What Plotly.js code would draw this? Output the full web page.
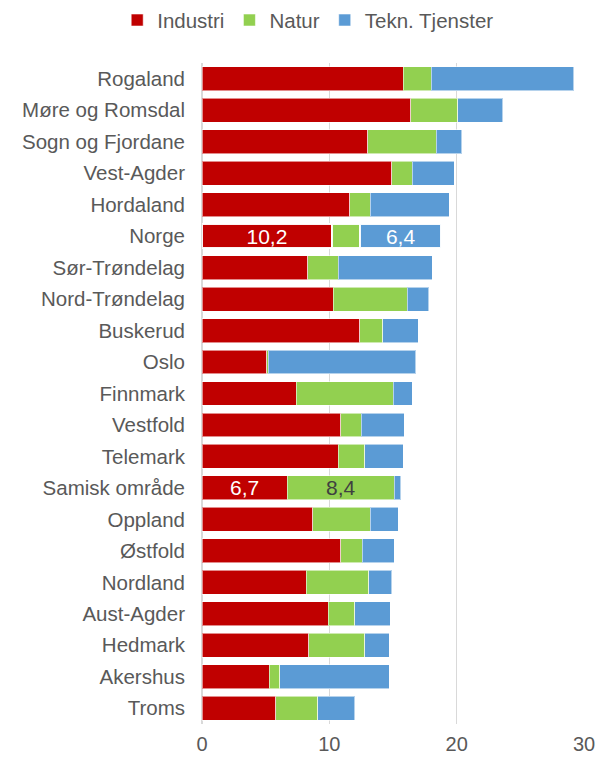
<!DOCTYPE html>
<html>
<head>
<meta charset="utf-8">
<script src="https://cdn.plot.ly/plotly-3.0.1.min.js"></script>
<style>html,body{margin:0;padding:0;background:#fff;}#chart{width:597px;height:757px;}</style>
</head>
<body>
<div id="chart"></div>
<script>
const regions = ["Rogaland","Møre og Romsdal","Sogn og Fjordane","Vest-Agder","Hordaland","Norge","Sør-Trøndelag","Nord-Trøndelag","Buskerud","Oslo","Finnmark","Vestfold","Telemark","Samisk område","Oppland","Østfold","Nordland","Aust-Agder","Hedmark","Akershus","Troms"];
const industri = [15.8,16.4,13.0,14.9,11.6,10.2,8.3,10.3,12.4,5.1,7.4,10.9,10.7,6.7,8.7,10.9,8.2,9.9,8.4,5.3,5.8];
const natur    = [2.2,3.7,5.4,1.6,1.6,2.2,2.4,5.8,1.8,0.1,7.6,1.6,2.1,8.4,4.5,1.7,4.9,2.1,4.4,0.8,3.3];
const tekn     = [11.2,3.5,2.0,3.3,6.2,6.4,7.4,1.7,2.8,11.6,1.5,3.4,3.0,0.5,2.2,2.5,1.8,2.8,1.9,8.6,2.9];
const highlightRow = "Norge";
const seriesNames = ["Industri","Natur","Tekn. Tjenster"];
const seriesColors = ["#C00000","#92D050","#5B9BD5"];
const labelSeries = [["Norge","Samisk område"],["Samisk område"],["Norge"]];
const labelColors = ["#ffffff","#404040","#ffffff"];

const FONT = "Liberation Sans, Arial, sans-serif";
const fmt = v => v.toFixed(1).replace(".", ",");
const allVals = [industri, natur, tekn];

const traces = allVals.map((vals, i) => ({
  type: "bar",
  orientation: "h",
  name: seriesNames[i],
  y: regions,
  x: vals,
  text: regions.map((r, j) => labelSeries[i].includes(r) ? fmt(vals[j]) : ""),
  textposition: "inside",
  insidetextanchor: "middle",
  constraintext: "none",
  textangle: 0,
  textfont: {family: FONT, size: 21, color: labelColors[i]},
  marker: {
    color: seriesColors[i],
    line: {
      color: regions.map(r => r === highlightRow ? "rgba(255,255,255,0.95)" : "rgba(255,255,255,0.55)"),
      width: regions.map(r => r === highlightRow ? 2 : 1)
    }
  }
}));

const layout = {
  width: 597,
  height: 757,
  barmode: "stack",
  bargap: 0.24,
  margin: {l: 202, r: 13, t: 63, b: 33, pad: 0, autoexpand: false},
  paper_bgcolor: "#ffffff",
  plot_bgcolor: "#ffffff",
  font: {family: FONT, size: 20, color: "#595959"},
  showlegend: true,
  legend: {
    orientation: "h",
    traceorder: "normal",
    x: -0.222, xanchor: "left",
    y: 1.095, yanchor: "top",
    font: {family: FONT, size: 20.5, color: "#595959"},
    itemgap: 0,
    itemwidth: 30
  },
  xaxis: {
    range: [0, 30],
    tickvals: [0, 10, 20, 30],
    ticktext: ["0","10","20","30"],
    showgrid: true,
    gridcolor: "#d9d9d9",
    gridwidth: 1.5,
    zeroline: true,
    zerolinecolor: "#d9d9d9",
    zerolinewidth: 1.5,
    showline: false,
    ticks: "",
    ticklabelstandoff: 6,
    tickfont: {family: FONT, size: 20, color: "#595959"},
    fixedrange: true
  },
  yaxis: {
    type: "category",
    autorange: "reversed",
    showgrid: false,
    zeroline: false,
    showline: false,
    ticks: "",
    ticklabelstandoff: 16,
    tickfont: {family: FONT, size: 20.5, color: "#595959"},
    fixedrange: true
  }
};

Plotly.newPlot("chart", traces, layout, {displayModeBar: false, staticPlot: true});
</script>
</body>
</html>
